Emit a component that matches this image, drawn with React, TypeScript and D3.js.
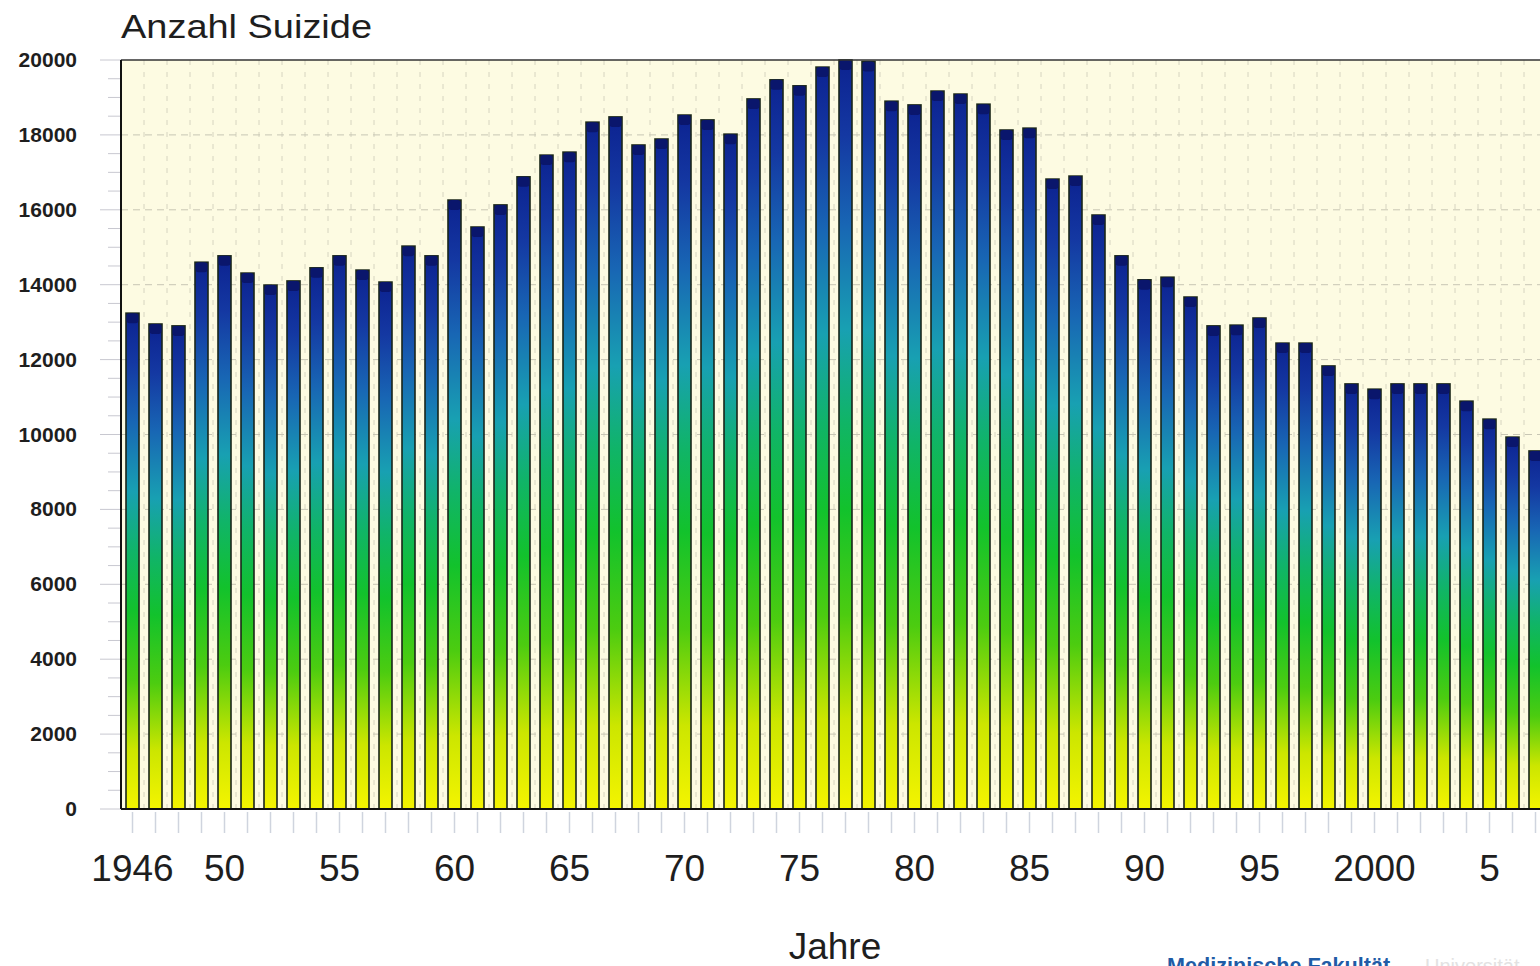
import React, { useEffect } from "react";
import * as d3 from "d3";

const years: number[] = [
  1946, 1947, 1948, 1949, 1950, 1951, 1952, 1953, 1954, 1955,
  1956, 1957, 1958, 1959, 1960, 1961, 1962, 1963, 1964, 1965,
  1966, 1967, 1968, 1969, 1970, 1971, 1972, 1973, 1974, 1975,
  1976, 1977, 1978, 1979, 1980, 1981, 1982, 1983, 1984, 1985,
  1986, 1987, 1988, 1989, 1990, 1991, 1992, 1993, 1994, 1995,
  1996, 1997, 1998, 1999, 2000, 2001, 2002, 2003, 2004, 2005,
  2006, 2007,
];

const suicides: number[] = [
  13240, 12950, 12900, 14600, 14770, 14310, 13990, 14100, 14450, 14770,
  14390, 14070, 15030, 14770, 16260, 15540, 16130, 16880, 17460, 17540,
  18340, 18480, 17730, 17890, 18530, 18400, 18020, 18960, 19470, 19310,
  19810, 20000, 19960, 18900, 18800, 19170, 19090, 18820, 18130, 18180,
  16820, 16900, 15860, 14770, 14130, 14200, 13670, 12900, 12920, 13110,
  12440, 12440, 11830, 11350, 11210, 11350, 11350, 11350, 10890, 10410,
  9930, 9560,
];

const yTicks: number[] = [0, 2000, 4000, 6000, 8000, 10000, 12000, 14000, 16000, 18000, 20000];
const xLabelYears: number[] = [1946, 1950, 1955, 1960, 1965, 1970, 1975, 1980, 1985, 1990, 1995, 2000, 2005];
const xLabelTexts: string[] = ["1946", "50", "55", "60", "65", "70", "75", "80", "85", "90", "95", "2000", "5"];

const W = 1540;
const H = 966;
const left = 121;
const top = 60;
const bottom = 809;
const step = 23;
const right = left + years.length * step;

const FONT = "'Liberation Sans', Arial, Helvetica, sans-serif";

export default function App() {
  useEffect(() => {
    document.body.style.margin = "0";
  }, []);

  const x = d3
    .scaleBand<number>()
    .domain(years)
    .range([left, right])
    .paddingInner(0.435)
    .paddingOuter(0.2175);
  const y = d3.scaleLinear().domain([0, 20000]).range([bottom, top]);
  const bw = x.bandwidth();

  const minorTicks = d3.range(0, 20001, 500);
  const gridY = yTicks.filter((t) => t > 0 && t < 20000);

  return (
    <svg
      width={W}
      height={H}
      style={{ position: "absolute", left: 0, top: 0, background: "#ffffff" }}
    >
      <defs>
        <linearGradient id="barGrad" x1="0" y1="1" x2="0" y2="0">
          <stop offset="0" stopColor="#f4f400" />
          <stop offset="0.12" stopColor="#cce600" />
          <stop offset="0.26" stopColor="#4ccc10" />
          <stop offset="0.4" stopColor="#12c22c" />
          <stop offset="0.52" stopColor="#10b468" />
          <stop offset="0.64" stopColor="#18a0b2" />
          <stop offset="0.78" stopColor="#1866b4" />
          <stop offset="0.9" stopColor="#1438a2" />
          <stop offset="1" stopColor="#0c2290" />
        </linearGradient>
        <clipPath id="plotClip">
          <rect x={left} y={top - 4} width={W - left} height={bottom - top + 4} />
        </clipPath>
      </defs>

      {/* plot background */}
      <rect x={left} y={top} width={right - left} height={bottom - top} fill="#fdfbe2" />

      {/* vertical dashed grid at year boundaries */}
      {years.map((yr, i) => (
        <line
          key={"vg" + yr}
          x1={left + (i + 1) * step}
          x2={left + (i + 1) * step}
          y1={top}
          y2={bottom}
          stroke="#d6d4c0"
          strokeWidth={1}
          strokeDasharray="5,7"
        />
      ))}

      {/* horizontal dashed grid */}
      {gridY.map((t) => (
        <line
          key={"hg" + t}
          x1={left}
          x2={W}
          y1={y(t)}
          y2={y(t)}
          stroke="#c8c6b4"
          strokeWidth={1}
          strokeDasharray="7,5"
        />
      ))}

      {/* y ticks (left, outside) */}
      {minorTicks.map((t) => (
        <line
          key={"yt" + t}
          x1={t % 2000 === 0 ? 100 : 108}
          x2={left}
          y1={y(t)}
          y2={y(t)}
          stroke="#c8c8d0"
          strokeWidth={1}
        />
      ))}

      {/* bars */}
      <g clipPath="url(#plotClip)">
        {years.map((yr, i) => {
          const v = suicides[i];
          const bx = x(yr) as number;
          const by = y(v);
          const bh = bottom - by;
          return (
            <g key={"b" + yr}>
              <rect
                x={bx}
                y={by}
                width={bw}
                height={bh}
                fill="url(#barGrad)"
                stroke="#1a261a"
                strokeWidth={1.6}
              />
              <rect
                x={bx + 0.5}
                y={by}
                width={bw - 1}
                height={10}
                rx={3}
                fill="#0a166c"
              />
            </g>
          );
        })}
      </g>

      {/* frame */}
      <line x1={left} x2={W} y1={top} y2={top} stroke="#333333" strokeWidth={1.5} />
      <line x1={left} x2={left} y1={top} y2={bottom} stroke="#111111" strokeWidth={2} />
      <line x1={left} x2={W} y1={bottom} y2={bottom} stroke="#111111" strokeWidth={2} />

      {/* x ticks */}
      {years.map((yr) => {
        const cx = (x(yr) as number) + bw / 2;
        return (
          <line
            key={"xt" + yr}
            x1={cx}
            x2={cx}
            y1={812}
            y2={833}
            stroke="#cfd4de"
            strokeWidth={1.5}
          />
        );
      })}

      {/* y labels */}
      {yTicks.map((t) => (
        <text
          key={"yl" + t}
          x={77}
          y={y(t) + 7}
          textAnchor="end"
          fontFamily={FONT}
          fontWeight="bold"
          fontSize={21}
          fill="#1e1e1e"
        >
          {t}
        </text>
      ))}

      {/* x labels */}
      {xLabelYears.map((yr, i) => (
        <text
          key={"xl" + yr}
          x={(x(yr) as number) + bw / 2}
          y={881}
          textAnchor="middle"
          fontFamily={FONT}
          fontSize={37}
          fill="#1e1e1e"
        >
          {xLabelTexts[i]}
        </text>
      ))}

      {/* title */}
      <text
        x={121}
        y={38}
        fontFamily={FONT}
        fontSize={34}
        fill="#1e1e1e"
        textLength={251}
        lengthAdjust="spacingAndGlyphs"
      >
        Anzahl Suizide
      </text>

      {/* axis title */}
      <text
        x={835}
        y={959}
        textAnchor="middle"
        fontFamily={FONT}
        fontSize={37}
        fill="#1e1e1e"
      >
        Jahre
      </text>

      {/* footer (cut off at the bottom edge, as in the reference) */}
      <text
        x={1167}
        y={973}
        fontFamily={FONT}
        fontWeight="bold"
        fontSize={21.6}
        fill="#1f5ca6"
      >
        Medizinische Fakultät
      </text>
      <text
        x={1425}
        y={973}
        fontFamily={FONT}
        fontSize={20}
        fill="#e2e2e2"
      >
        Universität
      </text>
    </svg>
  );
}
